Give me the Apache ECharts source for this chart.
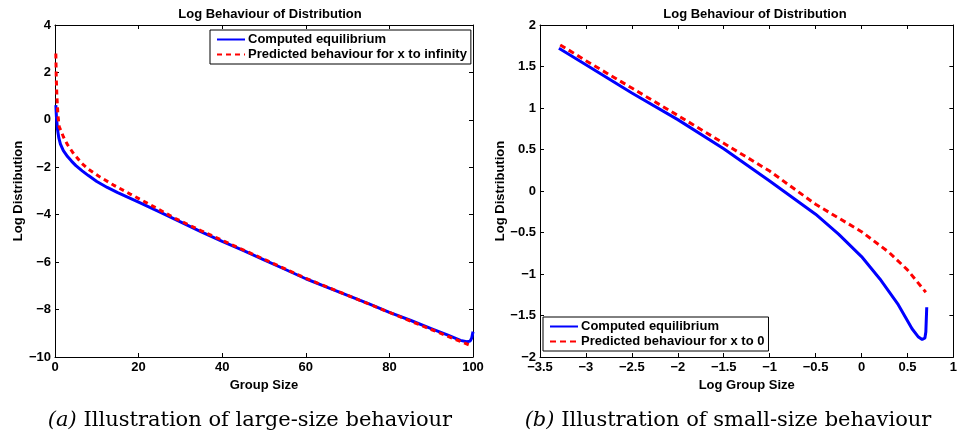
<!DOCTYPE html>
<html>
<head>
<meta charset="utf-8">
<script src="https://cdn.jsdelivr.net/npm/echarts@6/dist/echarts.min.js"></script>
<style>
html,body{margin:0;padding:0;background:#fff;}
#chart{width:960px;height:439px;}
</style>
</head>
<body>
<div id="chart"></div>
<script>
// ---- Data ----
// (a) large-size behaviour: Log Distribution vs Group Size
var largeBlueX = [0.2, 0.35, 0.6, 0.9, 1.3, 2, 3, 4, 5, 6.5, 8, 10, 12.5, 15, 17.5, 20, 25, 30, 35, 40, 45, 50, 55, 60, 65, 70, 75, 80, 85, 90, 94, 97, 98.5, 99.3, 99.7, 100];
var largeBlueY = [0.62, 0.1, -0.4, -0.75, -1.02, -1.3, -1.55, -1.75, -1.93, -2.15, -2.35, -2.6, -2.85, -3.07, -3.27, -3.47, -3.88, -4.3, -4.72, -5.12, -5.5, -5.9, -6.3, -6.7, -7.05, -7.4, -7.75, -8.12, -8.45, -8.8, -9.08, -9.3, -9.36, -9.33, -9.2, -8.93];
var largeRedX = [0.2, 0.3, 0.45, 0.7, 1, 2, 3, 4.4, 6.4, 8, 10.4, 14, 18, 23, 28.7, 35, 40, 50, 60, 70, 80, 90, 95, 99.5];
var largeRedY = [2.8, 1.8, 1.0, 0.2, -0.28, -0.71, -1.05, -1.41, -1.83, -2.08, -2.37, -2.75, -3.13, -3.6, -4.15, -4.68, -5.08, -5.88, -6.68, -7.4, -8.12, -8.84, -9.2, -9.52];

// (b) small-size behaviour: Log Distribution vs Log Group Size
var smallBlueX = [-3.294, -3.0, -2.5, -2.0, -1.5, -1.0, -0.5, -0.25, 0.0, 0.2, 0.4, 0.55, 0.62, 0.66, 0.69, 0.70, 0.71];
var smallBlueY = [1.72, 1.52, 1.18, 0.86, 0.51, 0.12, -0.28, -0.52, -0.79, -1.06, -1.37, -1.66, -1.76, -1.79, -1.77, -1.70, -1.40];
var smallRedX = [-3.28, -3.0, -2.5, -2.0, -1.5, -1.0, -0.5, 0.0, 0.3, 0.5, 0.7];
var smallRedY = [1.76, 1.57, 1.24, 0.91, 0.575, 0.24, -0.16, -0.49, -0.74, -0.95, -1.22];

var seriesNames = ['Computed equilibrium', 'Predicted behaviour for x to infinity', 'Predicted behaviour for x to 0'];
var titleText = 'Log Behaviour of Distribution';
var xNames = ['Group Size', 'Log Group Size'];
var yName = 'Log Distribution';
var captions = ['{i|(a)} Illustration of large-size behaviour', '{i|(b)} Illustration of small-size behaviour'];

function zip(xs, ys) { return xs.map(function (x, i) { return [x, ys[i]]; }); }
function minus(v) { return String(v).replace('-', '\u2212'); }

var FONT = 'Liberation Sans';
var FS = 13;
var lbl = { color: '#000', fontWeight: 'bold', fontSize: FS, fontFamily: FONT, margin: 4, formatter: minus };
var nameStyle = { color: '#000', fontWeight: 'bold', fontSize: FS, fontFamily: FONT };
var axLine = { show: true, onZero: false, lineStyle: { color: '#000', width: 1 } };
var tick = { show: true, inside: true, length: 4, lineStyle: { color: '#000', width: 1 } };

function xAxes(gi, min, max, interval, name) {
  return [
    { gridIndex: gi, type: 'value', min: min, max: max, interval: interval, position: 'bottom',
      name: name, nameLocation: 'middle', nameGap: 18, nameTextStyle: nameStyle,
      axisLine: axLine, axisTick: tick, axisLabel: lbl, splitLine: { show: false } },
    { gridIndex: gi, type: 'value', min: min, max: max, interval: interval, position: 'top',
      axisLine: axLine, axisTick: tick, axisLabel: { show: false }, splitLine: { show: false } }
  ];
}
function yAxes(gi, min, max, interval, gap) {
  return [
    { gridIndex: gi, type: 'value', min: min, max: max, interval: interval, position: 'left',
      name: yName, nameLocation: 'middle', nameGap: gap, nameTextStyle: nameStyle,
      axisLine: axLine, axisTick: tick, axisLabel: lbl, splitLine: { show: false } },
    { gridIndex: gi, type: 'value', min: min, max: max, interval: interval, position: 'right',
      axisLine: axLine, axisTick: tick, axisLabel: { show: false }, splitLine: { show: false } }
  ];
}

var legendText = { color: '#000', fontWeight: 'bold', fontSize: FS, fontFamily: FONT, padding: [0, 0, 0, -2] };
var captionStyle = { color: '#000', fontSize: 21, fontWeight: 'normal', fontFamily: 'DejaVu Serif',
  rich: { i: { fontStyle: 'italic', fontWeight: 'normal', fontSize: 21, fontFamily: 'DejaVu Serif', color: '#000' } } };

function legendFor(names, left, top) {
  return { data: names, orient: 'vertical', left: left, top: top,
    itemWidth: 28, itemHeight: 14, itemGap: 2, padding: [3, 4, 3, 6],
    borderColor: '#000', borderWidth: 1, backgroundColor: '#fff',
    itemStyle: { opacity: 0 },
    textStyle: legendText, selectedMode: false };
}

var option = {
  backgroundColor: '#fff',
  animation: false,
  title: [
    { text: titleText, left: 265, top: 3, textAlign: 'center', textStyle: nameStyle },
    { text: titleText, left: 750, top: 3, textAlign: 'center', textStyle: nameStyle },
    { text: captions[0], left: 245, top: 405, textAlign: 'center', textStyle: captionStyle },
    { text: captions[1], left: 723, top: 405, textAlign: 'center', textStyle: captionStyle }
  ],
  grid: [
    { left: 55, top: 25, width: 418, height: 332 },
    { left: 540, top: 25, width: 421, height: 332 }
  ],
  xAxis: xAxes(0, 0, 100, 20, xNames[0]).concat(xAxes(1, -3.5, 1, 0.5, xNames[1])),
  yAxis: yAxes(0, -10, 4, 2, 28).concat(yAxes(1, -2, 2, 0.5, 33)),
  legend: [
    legendFor([seriesNames[0], seriesNames[1]], 210, 30),
    legendFor([seriesNames[0], seriesNames[2]], 543, 317)
  ],
  series: [
    { name: seriesNames[0], type: 'line', xAxisIndex: 0, yAxisIndex: 0, symbol: 'none',
      data: zip(largeBlueX, largeBlueY), lineStyle: { color: '#0000ff', width: 3 }, itemStyle: { color: '#0000ff' } },
    { name: seriesNames[1], type: 'line', xAxisIndex: 0, yAxisIndex: 0, symbol: 'none',
      data: zip(largeRedX, largeRedY), lineStyle: { color: '#ff0000', width: 3, type: [5, 4] }, itemStyle: { color: '#ff0000' } },
    { name: seriesNames[0], type: 'line', xAxisIndex: 2, yAxisIndex: 2, symbol: 'none',
      data: zip(smallBlueX, smallBlueY), lineStyle: { color: '#0000ff', width: 3 }, itemStyle: { color: '#0000ff' } },
    { name: seriesNames[2], type: 'line', xAxisIndex: 2, yAxisIndex: 2, symbol: 'none',
      data: zip(smallRedX, smallRedY), lineStyle: { color: '#ff0000', width: 3, type: [6, 4] }, itemStyle: { color: '#ff0000' } }
  ]
};

var chart = echarts.init(document.getElementById('chart'), null, { renderer: 'canvas' });
chart.setOption(option);
</script>
</body>
</html>
